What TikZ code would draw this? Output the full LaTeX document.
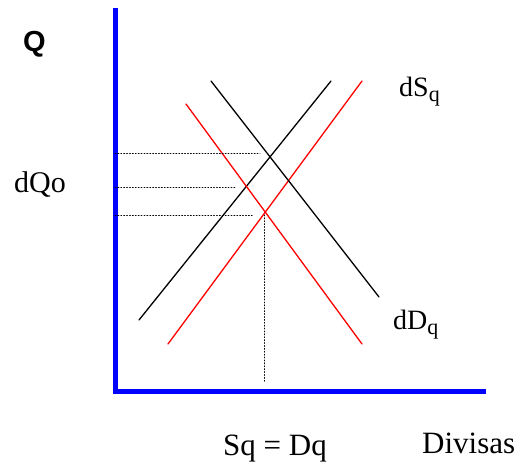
\documentclass[tikz,border=0pt]{standalone}
\usepackage{amsmath}
\usepackage{fontspec}
\setmainfont{Liberation Serif}
\newfontfamily\axisfont{Liberation Sans}
\usetikzlibrary{positioning}

\begin{document}
\begin{tikzpicture}[x=1pt, y=-1pt, line cap=round,
    curve/.style={line width=1.3pt},
    guide/.style={dotted, line width=0.9pt},
    lbl/.style={anchor=base west, inner sep=0pt}]
    \useasboundingbox (0,0) rectangle (523,466);
    % 1. Ejes
    \coordinate (top) at (115,8);
    \coordinate (origin) at (115,391);
    \coordinate (right) at (486,391);
    \draw[blue, line width=5pt, line cap=butt, line join=miter] (top) -- (origin) -- (right);

    % 2. Curvas de oferta y demanda
    \coordinate (S1a) at (139,320);  \coordinate (S1b) at (331,81);
    \coordinate (S2a) at (168,344);  \coordinate (S2b) at (362,81);
    \coordinate (D1a) at (211,81);   \coordinate (D1b) at (379,297);
    \coordinate (D2a) at (186,104);  \coordinate (D2b) at (362,344);
    \draw[curve] (S1a) -- (S1b);
    \draw[curve, red] (S2a) -- (S2b);
    \draw[curve] (D1a) -- (D1b);
    \draw[curve, red] (D2a) -- (D2b);

    % 3. Lineas punteadas
    \coordinate (q1) at (115,153);  \coordinate (e1) at (260,153);
    \coordinate (q2) at (115,187);  \coordinate (e2) at (235,187);
    \coordinate (q3) at (115,215);  \coordinate (e3) at (254,215);
    \coordinate (e4) at (264,215);  \coordinate (x4) at (264,383);
    \draw[guide] (q1) -- (e1);
    \draw[guide] (q2) -- (e2);
    \draw[guide] (q3) -- (e3);
    \draw[guide] (e4) -- (x4);

    % 4. Etiquetas
    \node[lbl] (Qlbl) at (23,51) {\axisfont\bfseries\fontsize{29}{31}\selectfont Q};
    \node[lbl] (dQo) at (14,192) {\fontsize{30}{32}\selectfont dQo};
    \node[lbl] (dSq) at (399,96) {\fontsize{28}{30}\selectfont dS\raisebox{-5pt}{\fontsize{22}{24}\selectfont q}};
    \node[lbl] (dDq) at (393,329) {\fontsize{28}{30}\selectfont dD\raisebox{-5pt}{\fontsize{22}{24}\selectfont q}};
    \node[lbl] (SqDq) at (223,455) {\fontsize{31}{34}\selectfont Sq = Dq};
    \node[lbl] (div) at (422,453) {\fontsize{31}{34}\selectfont Divisas};
\end{tikzpicture}
\end{document}
